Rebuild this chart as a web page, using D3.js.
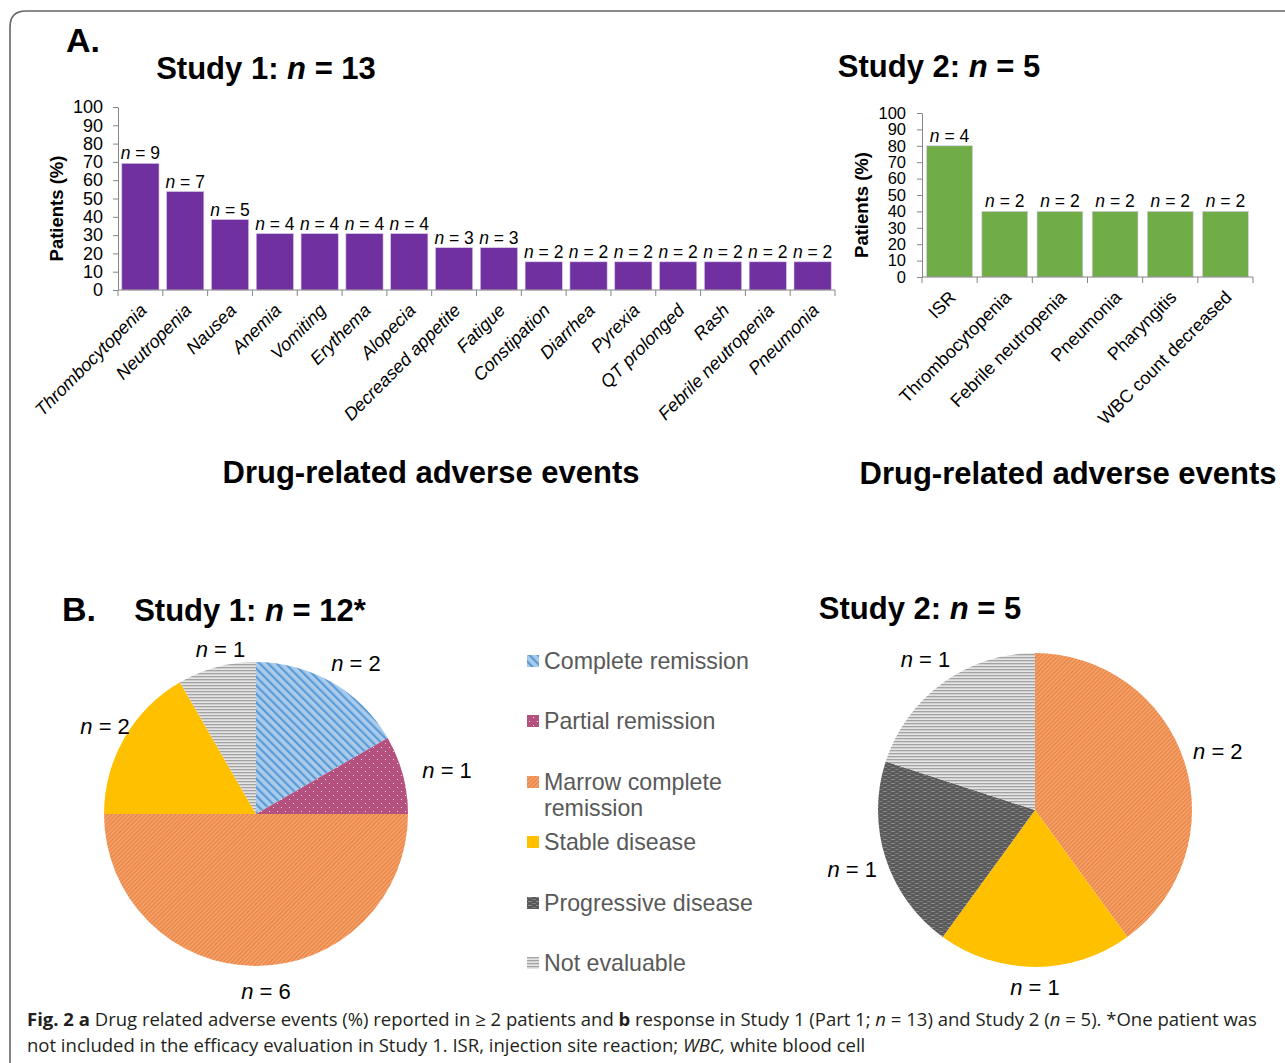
<!DOCTYPE html>
<html><head><meta charset="utf-8">
<script src="https://cdn.jsdelivr.net/npm/d3@7"></script>
<style>
body{margin:0;background:#fff;}
svg{display:block;font-family:"Liberation Sans",Arial,sans-serif;}
</style></head>
<body><svg id="c" width="1285" height="1063"></svg>
<script>
// ---------- DATA ----------
const study1Events = ["Thrombocytopenia","Neutropenia","Nausea","Anemia","Vomiting","Erythema","Alopecia","Decreased appetite","Fatigue","Constipation","Diarrhea","Pyrexia","QT prolonged","Rash","Febrile neutropenia","Pneumonia"];
const study1Counts = [9,7,5,4,4,4,4,3,3,2,2,2,2,2,2,2];
const study1Pct = [69.2,53.8,38.5,30.8,30.8,30.8,30.8,23.1,23.1,15.4,15.4,15.4,15.4,15.4,15.4,15.4];
const study2Events = ["ISR","Thrombocytopenia","Febrile neutropenia","Pneumonia","Pharyngitis","WBC count decreased"];
const study2Counts = [4,2,2,2,2,2];
const study2Pct = [80,40,40,40,40,40];
const yTicks = [0,10,20,30,40,50,60,70,80,90,100];
const responseCategories = ["Complete remission","Partial remission","Marrow complete remission","Stable disease","Progressive disease","Not evaluable"];
const study1Response = [2,1,6,2,0,1];
const study2Response = [0,0,2,1,1,1];

// ---------- SETUP ----------
const svg = d3.select("#c").attr("font-family","Liberation Sans, Arial, sans-serif");
const defs = svg.append("defs");

function stripePattern(id, bg, fg, size, w, angle){
  const p = defs.append("pattern").attr("id",id).attr("patternUnits","userSpaceOnUse")
    .attr("width",size).attr("height",size).attr("patternTransform",`rotate(${angle})`);
  p.append("rect").attr("width",size).attr("height",size).attr("fill",bg);
  p.append("rect").attr("width",w).attr("height",size).attr("fill",fg);
}
stripePattern("pCR","#a9cbec","#5b9bd5",6,2.2,-45);
stripePattern("pMCR","#f4a36e","#e9803c",3,1.2,45);
{const p = defs.append("pattern").attr("id","pPR").attr("patternUnits","userSpaceOnUse").attr("width",8).attr("height",8);
 p.append("rect").attr("width",8).attr("height",8).attr("fill","#b5517f");
 p.append("rect").attr("x",1).attr("y",1).attr("width",1).attr("height",1).attr("fill","#f3d7e4");
 p.append("rect").attr("x",5).attr("y",5).attr("width",1).attr("height",1).attr("fill","#f3d7e4");}
{const p = defs.append("pattern").attr("id","pPD").attr("patternUnits","userSpaceOnUse").attr("width",8).attr("height",4);
 p.append("rect").attr("width",8).attr("height",4).attr("fill","#5a5a5a");
 p.append("rect").attr("x",0).attr("y",1).attr("width",4).attr("height",1).attr("fill","#8a8a8a");
 p.append("rect").attr("x",4).attr("y",3).attr("width",4).attr("height",1).attr("fill","#7a7a7a");}
{const p = defs.append("pattern").attr("id","pNE").attr("patternUnits","userSpaceOnUse").attr("width",4).attr("height",3);
 p.append("rect").attr("width",4).attr("height",3).attr("fill","#e4e4e4");
 p.append("rect").attr("y",0).attr("width",4).attr("height",1.3).attr("fill","#a3a3a3");}
const respFill = ["url(#pCR)","url(#pPR)","url(#pMCR)","#ffc000","url(#pPD)","url(#pNE)"];

// frame
svg.append("path").attr("d","M10,1063 V27 Q10,11 26,11 H1285").attr("fill","none").attr("stroke","#666").attr("stroke-width",1.6);

function nLabel(g, x, y, k, size, anchor){
  const t = g.append("text").attr("x",x).attr("y",y).attr("text-anchor",anchor||"middle")
    .attr("font-size",size).attr("fill","#000");
  t.append("tspan").attr("font-style","italic").text("n");
  t.append("tspan").text(" = "+k);
  return t;
}
function title(x, y, prefix, nTxt, size){
  const t = svg.append("text").attr("x",x).attr("y",y).attr("text-anchor","middle")
    .attr("font-size",size).attr("font-weight","bold");
  t.append("tspan").text(prefix);
  t.append("tspan").attr("font-style","italic").text("n");
  t.append("tspan").text(nTxt);
}

// ---------- BAR CHARTS ----------
function barChart(opts){
  const {cats, counts, pct, x0, x1, yb, yt, color, italic, ylabX, tickSpacing, tickFont} = opts;
  const g = svg.append("g");
  const x = d3.scaleBand().domain(cats).range([x0,x1]).paddingInner(0.17).paddingOuter(0.085);
  const y = d3.scaleLinear().domain([0,100]).range([yb,yt]);
  g.selectAll("rect.bar").data(cats).join("rect").attr("class","bar")
    .attr("x",d=>x(d)).attr("width",x.bandwidth())
    .attr("y",(d,i)=>y(pct[i])).attr("height",(d,i)=>yb-y(pct[i]))
    .attr("fill",color).attr("stroke","#d8c8e8").attr("stroke-width",0.6);
  const ya = g.append("g").attr("transform",`translate(${x0},0)`)
    .call(d3.axisLeft(y).tickValues(yTicks).tickSize(5).tickPadding(tickSpacing).tickSizeOuter(0));
  ya.selectAll("text").attr("font-size",tickFont).attr("font-family","Liberation Sans, Arial").attr("fill","#000");
  ya.selectAll("line").attr("stroke","#868686");
  ya.select(".domain").attr("stroke","#868686");
  g.append("line").attr("x1",x0).attr("x2",x1).attr("y1",yb).attr("y2",yb).attr("stroke","#868686").attr("stroke-width",1.2);
  const step = x.step();
  const bounds = d3.range(cats.length+1).map(i=> i===cats.length ? x1 : x(cats[i]) - x.paddingInner()*step/2);
  bounds[0] = x0;
  g.selectAll("line.xt").data(bounds).join("line").attr("class","xt")
    .attr("x1",d=>d).attr("x2",d=>d).attr("y1",yb).attr("y2",yb+6).attr("stroke","#868686");
  g.selectAll("text.cat").data(cats).join("text").attr("class","cat")
    .attr("transform",d=>`translate(${x(d)+x.bandwidth()/2+3},${yb+17}) rotate(-45)`)
    .attr("text-anchor","end").attr("font-size",18).attr("font-style",italic?"italic":"normal")
    .attr("dy","0.35em").text(d=>d);
  cats.forEach((c,i)=>{ nLabel(g, x(c)+x.bandwidth()/2, y(pct[i])-4, counts[i], 17.5); });
  g.append("text").attr("transform",`translate(${ylabX},${(yb+yt)/2+10}) rotate(-90)`)
    .attr("text-anchor","middle").attr("font-size",18.5).attr("font-weight","bold").text("Patients (%)");
}
barChart({cats:study1Events,counts:study1Counts,pct:study1Pct,x0:118,x1:835,yb:290,yt:107,color:"#7030a0",italic:true,ylabX:63,tickSpacing:10,tickFont:18});
barChart({cats:study2Events,counts:study2Counts,pct:study2Pct,x0:922,x1:1253,yb:277,yt:113,color:"#70ad47",italic:false,ylabX:868,tickSpacing:11,tickFont:16.5});

// titles
svg.append("text").attr("x",66).attr("y",52).attr("font-size",34).attr("font-weight","bold").text("A.");
title(266,79,"Study 1: "," = 13",31);
title(939,77,"Study 2: "," = 5",31);
svg.append("text").attr("x",431).attr("y",483).attr("text-anchor","middle").attr("font-size",31).attr("font-weight","bold").text("Drug-related adverse events");
svg.append("text").attr("x",1068).attr("y",484).attr("text-anchor","middle").attr("font-size",31).attr("font-weight","bold").text("Drug-related adverse events");

svg.append("text").attr("x",62).attr("y",621).attr("font-size",34).attr("font-weight","bold").text("B.");
title(250,621,"Study 1: "," = 12*",31);
title(920,619,"Study 2: "," = 5",31);

// ---------- PIES ----------
function pieChart(values, cx, cy, R, shiftX, shiftY){
  const g = svg.append("g").attr("transform",`translate(${cx},${cy})`);
  const arcs = d3.pie().sort(null).value(d=>d)(values);
  const arc = d3.arc().innerRadius(0).outerRadius(R);
  g.selectAll("path").data(arcs).join("path").attr("d",arc).attr("fill",(d,i)=>respFill[i]);
  arcs.forEach(a=>{
    if(a.value===0) return;
    const m = (a.startAngle+a.endAngle)/2;
    const r = R + 20 + 16*Math.abs(Math.sin(m));
    const lx = r*Math.sin(m) + shiftX, ly = -r*Math.cos(m) + shiftY;
    nLabel(g, lx, ly, a.value, 22).attr("dominant-baseline","central");
  });
}
pieChart(study1Response, 256, 814, 152, 10, 5);
pieChart(study2Response, 1035, 810, 157, 0, 0);

// legend
const legY = [661,721,782,842,903,963];
const lg = svg.append("g");
responseCategories.forEach((c,i)=>{
  lg.append("rect").attr("x",527).attr("y",legY[i]-6).attr("width",12).attr("height",12).attr("fill",respFill[i]);
  const t = lg.append("text").attr("x",544).attr("y",legY[i]).attr("dominant-baseline","central")
    .attr("font-size",23.2).attr("fill","#595959");
  if(c==="Marrow complete remission"){
    t.text("Marrow complete");
    lg.append("text").attr("x",544).attr("y",legY[i]+26).attr("dominant-baseline","central")
      .attr("font-size",23.2).attr("fill","#595959").text("remission");
  } else t.text(c);
});

// ---------- CAPTION ----------
const cap1 = svg.append("text").attr("x",27).attr("y",1026).attr("font-size",18.5)
  .attr("font-family","Open Sans, sans-serif").attr("fill","#231f20");
[["Fig. 2  ","b"],["a","b"],[" Drug related adverse events (%) reported in ≥ 2 patients and ",""],["b","b"],[" response in Study 1 (Part 1; ",""],["n","i"],[" = 13) and Study 2 (",""],["n","i"],[" = 5). *One patient was",""]]
 .forEach(([s,f])=>{const ts=cap1.append("tspan").text(s); if(f==="b")ts.attr("font-weight","bold"); if(f==="i")ts.attr("font-style","italic");});
const cap2 = svg.append("text").attr("x",27).attr("y",1052).attr("font-size",18.5)
  .attr("font-family","Open Sans, sans-serif").attr("fill","#231f20");
[["not included in the efficacy evaluation in Study 1.  ISR, injection site reaction; ",""],["WBC,","i"],[" white blood cell",""]]
 .forEach(([s,f])=>{const ts=cap2.append("tspan").text(s); if(f==="i")ts.attr("font-style","italic");});
</script></body></html>
